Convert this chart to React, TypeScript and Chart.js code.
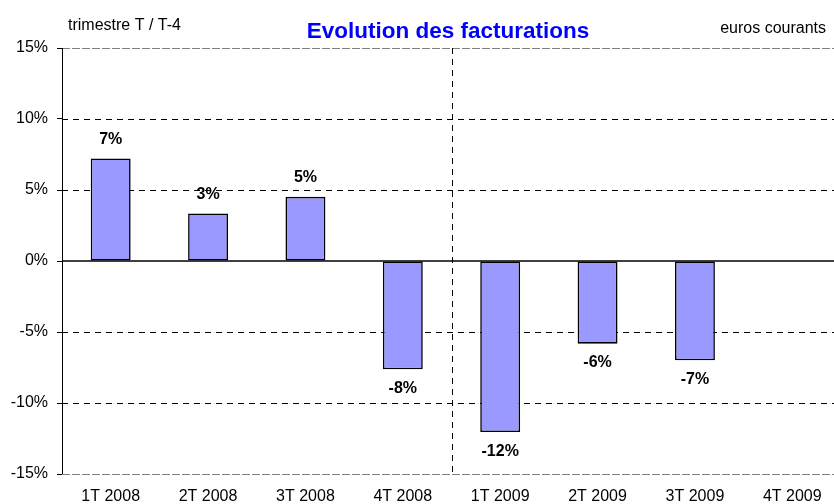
import React, { useEffect, useRef } from "react";
import { Chart, registerables } from "chart.js";

Chart.register(...registerables);

const categories = ["1T 2008", "2T 2008", "3T 2008", "4T 2008", "1T 2009", "2T 2009", "3T 2009", "4T 2009"];
const values: (number | null)[] = [7.22, 3.35, 4.52, -7.63, -12.05, -5.82, -6.99, null];
const yTicks = [-15, -10, -5, 0, 5, 10, 15];
const titleText = "Evolution des facturations";
const leftNote = "trimestre T / T-4";
const rightNote = "euros courants";

const FONT = "'Liberation Sans', Arial, sans-serif";

const decor = {
  id: "decor",
  beforeDatasetsDraw(chart: any) {
    const { ctx, chartArea: a, scales } = chart;
    const x = scales.x;
    const y = scales.y;
    ctx.save();
    ctx.lineWidth = 1;
    yTicks.forEach((v) => {
      if (v === 0) return;
      const py = Math.round(y.getPixelForValue(v)) + 0.5;
      ctx.beginPath();
      if (v === 15 || v === -15) {
        ctx.setLineDash([8, 2]);
        ctx.strokeStyle = "#808080";
      } else {
        ctx.setLineDash([6, 5]);
        ctx.strokeStyle = "#000000";
      }
      ctx.moveTo(a.left, py);
      ctx.lineTo(a.right, py);
      ctx.stroke();
    });
    const vx = Math.round((x.getPixelForValue(3) + x.getPixelForValue(4)) / 2) + 0.5;
    ctx.beginPath();
    ctx.setLineDash([6, 5]);
    ctx.strokeStyle = "#000000";
    ctx.moveTo(vx, a.top);
    ctx.lineTo(vx, a.bottom);
    ctx.stroke();
    ctx.restore();
  },
  afterDatasetsDraw(chart: any) {
    const { ctx, chartArea: a, scales } = chart;
    const y = scales.y;
    ctx.save();
    ctx.setLineDash([]);
    ctx.strokeStyle = "#000000";
    // zero line
    const zy = y.getPixelForValue(0);
    ctx.lineWidth = 1.5;
    ctx.beginPath();
    ctx.moveTo(a.left, zy);
    ctx.lineTo(a.right, zy);
    ctx.stroke();
    // left axis
    ctx.lineWidth = 1;
    ctx.beginPath();
    ctx.moveTo(a.left + 0.5, a.top);
    ctx.lineTo(a.left + 0.5, a.bottom);
    ctx.stroke();
    // data labels
    const meta = chart.getDatasetMeta(0);
    ctx.font = `bold 16px ${FONT}`;
    ctx.fillStyle = "#000000";
    ctx.textAlign = "center";
    ctx.textBaseline = "middle";
    meta.data.forEach((el: any, i: number) => {
      const v = values[i];
      if (v === null || v === undefined) return;
      const ly = v >= 0 ? el.y - 19 : el.y + 19;
      ctx.fillText(`${Math.round(v)}%`, el.x, ly);
    });
    // titles
    ctx.textBaseline = "alphabetic";
    ctx.font = `bold 22.5px ${FONT}`;
    ctx.fillStyle = "#0000FF";
    ctx.textAlign = "center";
    ctx.fillText(titleText, 448, 38);
    ctx.font = `16px ${FONT}`;
    ctx.fillStyle = "#000000";
    ctx.textAlign = "left";
    ctx.fillText(leftNote, 68, 30);
    ctx.textAlign = "right";
    ctx.fillText(rightNote, 826, 33);
    ctx.restore();
  },
};

export default function App() {
  const ref = useRef<HTMLCanvasElement>(null);
  useEffect(() => {
    if (!ref.current) return;
    const chart = new Chart(ref.current, {
      type: "bar",
      data: {
        labels: categories,
        datasets: [
          {
            data: values as any,
            backgroundColor: "#9999FF",
            borderColor: "#000000",
            borderWidth: 1.6,
            borderSkipped: false,
            barPercentage: 0.41,
            categoryPercentage: 1,
          },
        ],
      },
      options: {
        responsive: false,
        animation: false,
        devicePixelRatio: 1,
        layout: { padding: { left: 0, top: 48, right: 19, bottom: 0 } },
        plugins: {
          legend: { display: false },
          tooltip: { enabled: false },
          title: { display: false },
        },
        scales: {
          x: {
            offset: true,
            grid: { display: false, drawTicks: false },
            border: { display: false },
            ticks: {
              color: "#000000",
              font: { family: FONT, size: 16 },
              padding: 13,
              maxRotation: 0,
              autoSkip: false,
            },
            afterFit: (s: any) => {
              s.height = 30;
            },
          },
          y: {
            min: -15,
            max: 15,
            afterBuildTicks: (s: any) => {
              s.ticks = yTicks.map((v) => ({ value: v }));
            },
            grid: {
              display: true,
              drawOnChartArea: false,
              drawTicks: true,
              tickLength: 5,
              tickColor: "#000000",
            },
            border: { display: false },
            ticks: {
              color: "#000000",
              font: { family: FONT, size: 16 },
              padding: 9,
              callback: (v: any) => `${v}%`,
            },
            afterFit: (s: any) => {
              s.width = 62;
            },
          },
        },
      },
      plugins: [decor],
    });
    return () => chart.destroy();
  }, []);
  return (
    <div
      style={{
        position: "fixed",
        left: 0,
        top: 0,
        width: 834,
        height: 504,
        overflow: "hidden",
        background: "#ffffff",
      }}
    >
      <canvas ref={ref} width={860} height={504} style={{ display: "block", width: 860, height: 504 }} />
    </div>
  );
}
